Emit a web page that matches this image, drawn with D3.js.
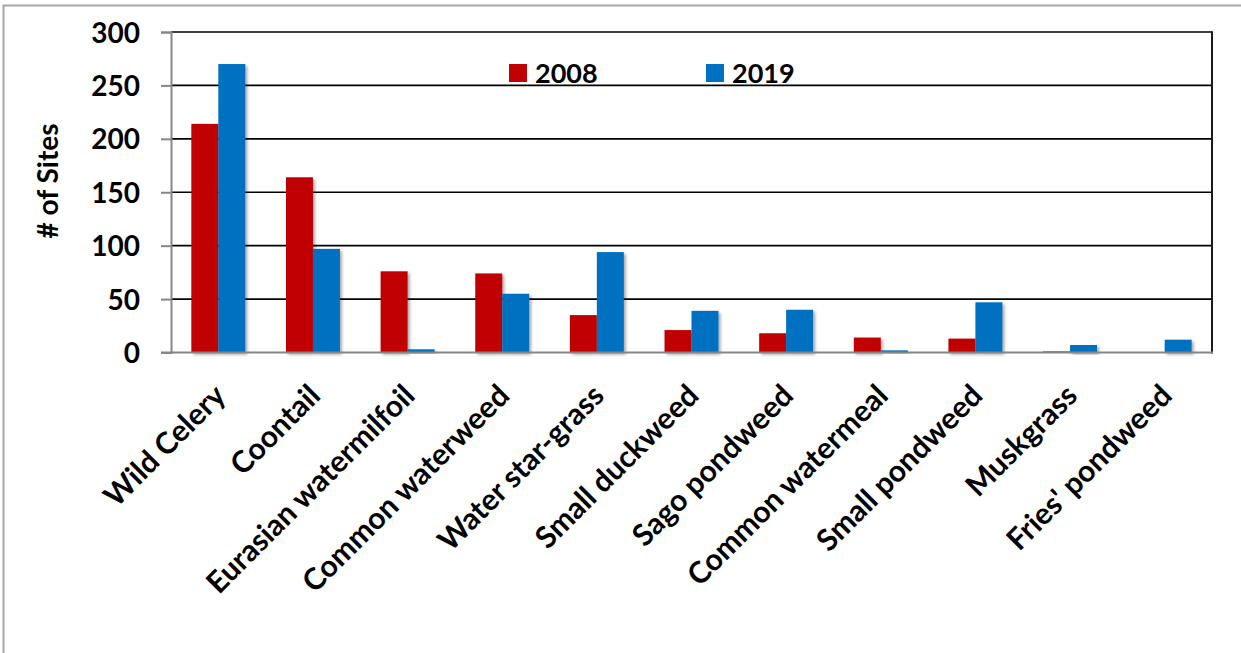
<!DOCTYPE html>
<html>
<head>
<meta charset="utf-8">
<script src="https://cdn.jsdelivr.net/npm/d3@7"></script>
<style>
  html, body { margin: 0; padding: 0; background: #fff; }
  svg { display: block; }
  text { font-family: Lato, "Open Sans", sans-serif; font-weight: bold; fill: #000; }
</style>
</head>
<body>
<svg id="chart" width="1241" height="653"></svg>
<script>
// Aquatic plant survey: number of sites where each species was found
const species = ["Wild Celery", "Coontail", "Eurasian watermilfoil", "Common waterweed",
  "Water star-grass", "Small duckweed", "Sago pondweed", "Common watermeal",
  "Small pondweed", "Muskgrass", "Fries' pondweed"];
const sites2008 = [214, 164, 76, 74, 35, 21, 18, 14, 13, 1, 0];
const sites2019 = [270, 97, 3, 55, 94, 39, 40, 2, 47, 7, 12];
const years = ["2008", "2019"];
const yearColors = ["#C00000", "#0070C0"];
const yTicks = [0, 50, 100, 150, 200, 250, 300];

const svg = d3.select("#chart");
const plot = { left: 171, right: 1212, top: 32, bottom: 352.5 };

// outer frame
svg.append("path")
  .attr("d", "M3.5,660 V5.5 H1245")
  .attr("fill", "none").attr("stroke", "#a6a6a6").attr("stroke-width", 2);

// drop shadow for the bars
const defs = svg.append("defs");
defs.append("filter").attr("id", "barShadow")
  .attr("x", "-20%").attr("y", "-20%").attr("width", "150%").attr("height", "150%")
  .append("feDropShadow")
  .attr("dx", 2).attr("dy", 2).attr("stdDeviation", 1.5)
  .attr("flood-color", "#000").attr("flood-opacity", 0.35);

const x = d3.scaleBand().domain(species).range([plot.left, plot.right]).paddingInner(0.43).paddingOuter(0.215);
const xSub = d3.scaleBand().domain(years).range([0, x.bandwidth()]);
const y = d3.scaleLinear().domain([0, 300]).range([plot.bottom, plot.top]);

// horizontal gridlines
svg.append("g").selectAll("line")
  .data(yTicks.filter(d => d > 0))
  .join("line")
  .attr("x1", plot.left).attr("x2", plot.right)
  .attr("y1", d => y(d)).attr("y2", d => y(d))
  .attr("stroke", "#000").attr("stroke-width", 1.6);

// right border of plot area
svg.append("line")
  .attr("x1", plot.right).attr("x2", plot.right)
  .attr("y1", plot.top - 0.8).attr("y2", plot.bottom + 1)
  .attr("stroke", "#1a1a1a").attr("stroke-width", 2);

// bars
const rows = species.map((s, i) => ({ s, vals: [sites2008[i], sites2019[i]] }));
const groups = svg.append("g").selectAll("g")
  .data(rows).join("g")
  .attr("transform", d => `translate(${x(d.s)},0)`);
groups.selectAll("rect")
  .data(d => years.map((yr, k) => ({ yr, v: d.vals[k], k })))
  .join("rect")
  .attr("x", d => xSub(d.yr))
  .attr("width", xSub.bandwidth())
  .attr("y", d => y(d.v))
  .attr("height", d => y(0) - y(d.v))
  .attr("fill", d => yearColors[d.k])
  .attr("filter", d => d.v > 0 ? "url(#barShadow)" : null);

// y axis
const yAxis = svg.append("g")
  .attr("transform", `translate(${plot.left},0)`)
  .call(d3.axisLeft(y).tickValues(yTicks).tickSize(10).tickPadding(21));
yAxis.select(".domain").attr("stroke", "#868686").attr("stroke-width", 2);
yAxis.selectAll(".tick line").attr("stroke", "#868686").attr("stroke-width", 2);
yAxis.selectAll(".tick text")
  .attr("font-size", 28).attr("font-family", "Lato, sans-serif").attr("font-weight", "bold")
  .attr("fill", "#000").attr("dy", "0.36em");

// x axis baseline
svg.append("line")
  .attr("x1", plot.left - 10).attr("x2", plot.right + 1)
  .attr("y1", plot.bottom).attr("y2", plot.bottom)
  .attr("stroke", "#868686").attr("stroke-width", 2);

// category labels, rotated
svg.append("g").selectAll("text")
  .data(species).join("text")
  .attr("transform", d => `translate(${x(d) + x.bandwidth() / 2 + 9},${plot.bottom + 45}) rotate(-45)`)
  .attr("text-anchor", "end")
  .attr("font-size", 30)
  .text(d => d);

// y axis title
svg.append("text")
  .attr("transform", `translate(58,181) rotate(-90)`)
  .attr("text-anchor", "middle")
  .attr("font-size", 28)
  .text("# of Sites");

// legend
const legendX = [509, 706];
const legend = svg.append("g").selectAll("g")
  .data(years).join("g")
  .attr("transform", (d, i) => `translate(${legendX[i]},64)`);
legend.append("rect").attr("width", 18).attr("height", 18)
  .attr("fill", (d, i) => yearColors[i]);
legend.append("text").attr("x", 26).attr("y", 18.5).attr("font-size", 27).text(d => d);
</script>
</body>
</html>
